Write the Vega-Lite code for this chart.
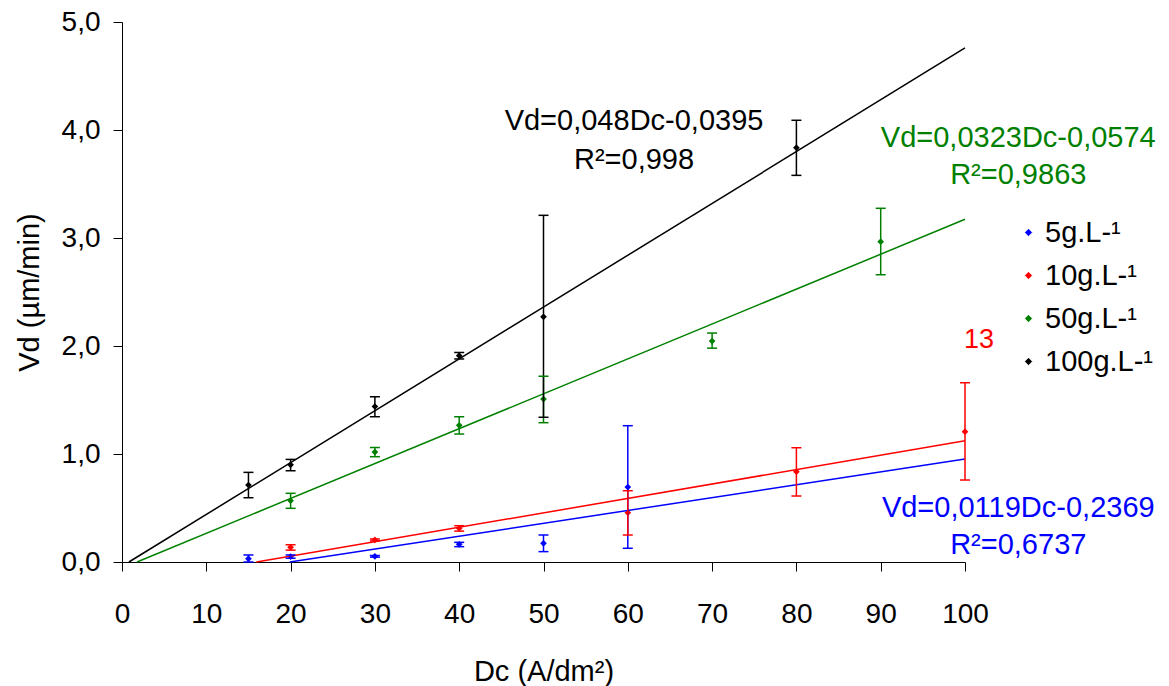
{
  "$schema": "https://vega.github.io/schema/vega-lite/v6.json",
  "width": 843,
  "height": 540,
  "autosize": {"type": "none"},
  "padding": {"left": 122, "top": 22, "right": 204, "bottom": 124},
  "background": "white",
  "config": {
    "view": {"stroke": null},
    "font": "Liberation Sans",
    "axis": {
      "grid": false,
      "domainColor": "black",
      "tickColor": "black",
      "labelColor": "black",
      "titleColor": "black",
      "labelFont": "Liberation Sans",
      "titleFont": "Liberation Sans",
      "labelFontSize": 28,
      "titleFontSize": 29,
      "titleFontWeight": "normal",
      "tickSize": 9,
      "domainWidth": 1,
      "tickWidth": 1,
      "labelFlush": false,
      "labelOverlap": false
    }
  },
  "datasets": {
    "points": [
      {"c": "5g.L-¹", "x": 15, "y": 0.031, "lo": 0.0, "hi": 0.065},
      {"c": "5g.L-¹", "x": 20, "y": 0.05, "lo": 0.035, "hi": 0.065},
      {"c": "5g.L-¹", "x": 30, "y": 0.053, "lo": 0.045, "hi": 0.06},
      {"c": "5g.L-¹", "x": 40, "y": 0.164, "lo": 0.142, "hi": 0.182},
      {"c": "5g.L-¹", "x": 50, "y": 0.173, "lo": 0.096, "hi": 0.25},
      {"c": "5g.L-¹", "x": 60, "y": 0.694, "lo": 0.127, "hi": 1.262},
      {"c": "10g.L-¹", "x": 20, "y": 0.136, "lo": 0.11, "hi": 0.16},
      {"c": "10g.L-¹", "x": 30, "y": 0.204, "lo": 0.195, "hi": 0.213},
      {"c": "10g.L-¹", "x": 40, "y": 0.312, "lo": 0.286, "hi": 0.336},
      {"c": "10g.L-¹", "x": 60, "y": 0.457, "lo": 0.25, "hi": 0.66},
      {"c": "10g.L-¹", "x": 80, "y": 0.836, "lo": 0.611, "hi": 1.058},
      {"c": "10g.L-¹", "x": 100, "y": 1.207, "lo": 0.759, "hi": 1.66},
      {"c": "50g.L-¹", "x": 20, "y": 0.568, "lo": 0.497, "hi": 0.636},
      {"c": "50g.L-¹", "x": 30, "y": 1.018, "lo": 0.975, "hi": 1.06},
      {"c": "50g.L-¹", "x": 40, "y": 1.266, "lo": 1.185, "hi": 1.345},
      {"c": "50g.L-¹", "x": 50, "y": 1.509, "lo": 1.29, "hi": 1.72},
      {"c": "50g.L-¹", "x": 70, "y": 2.046, "lo": 1.98, "hi": 2.12},
      {"c": "50g.L-¹", "x": 90, "y": 2.966, "lo": 2.66, "hi": 3.275},
      {"c": "100g.L-¹", "x": 15, "y": 0.713, "lo": 0.595, "hi": 0.83},
      {"c": "100g.L-¹", "x": 20, "y": 0.9, "lo": 0.845, "hi": 0.95},
      {"c": "100g.L-¹", "x": 30, "y": 1.44, "lo": 1.345, "hi": 1.53},
      {"c": "100g.L-¹", "x": 40, "y": 1.91, "lo": 1.88, "hi": 1.94},
      {"c": "100g.L-¹", "x": 50, "y": 2.27, "lo": 1.34, "hi": 3.21},
      {"c": "100g.L-¹", "x": 80, "y": 3.836, "lo": 3.58, "hi": 4.09}
    ],
    "fits": [
      {"c": "100g.L-¹", "x": 0.82, "y": 0},
      {"c": "100g.L-¹", "x": 100, "y": 4.76},
      {"c": "50g.L-¹", "x": 1.78, "y": 0},
      {"c": "50g.L-¹", "x": 100, "y": 3.173},
      {"c": "10g.L-¹", "x": 15.95, "y": 0},
      {"c": "10g.L-¹", "x": 100, "y": 1.123},
      {"c": "5g.L-¹", "x": 19.9, "y": 0},
      {"c": "5g.L-¹", "x": 100, "y": 0.953}
    ],
    "one": [{}]
  },
  "layer": [
    {
      "data": {"name": "points"},
      "mark": {"type": "point", "shape": "diamond", "filled": true, "size": 45, "opacity": 1},
      "encoding": {
        "x": {
          "field": "x", "type": "quantitative",
          "scale": {"domain": [0, 100], "nice": false, "zero": false},
          "axis": {
            "values": [0, 10, 20, 30, 40, 50, 60, 70, 80, 90, 100],
            "labelPadding": 29,
            "labelBaseline": "top",
            "title": "Dc (A/dm²)",
            "titleBaseline": "alphabetic",
            "titleY": 118,
            "titleX": 421.5,
            "titleAlign": "center"
          }
        },
        "y": {
          "field": "y", "type": "quantitative",
          "scale": {"domain": [0, 5], "nice": false},
          "axis": {
            "values": [0, 1, 2, 3, 4, 5],
            "labelExpr": "replace(format(datum.value, '.1f'), '.', ',')",
            "labelPadding": 13,
            "title": "Vd (µm/min)",
            "titleBaseline": "alphabetic",
            "titleAngle": -90,
            "titleX": -84,
            "titleY": 270,
            "titleAlign": "center"
          }
        },
        "color": {
          "field": "c", "type": "nominal",
          "scale": {
            "domain": ["5g.L-¹", "10g.L-¹", "50g.L-¹", "100g.L-¹"],
            "range": ["#0000ff", "#ff0000", "#008000", "#000000"]
          },
          "legend": {
            "title": null,
            "orient": "none",
            "legendX": 892,
            "legendY": 196,
            "padding": 0,
            "symbolType": "diamond",
            "symbolSize": 40,
            "symbolStrokeWidth": 1,
            "labelFont": "Liberation Sans",
            "labelFontSize": 29,
            "labelColor": "black",
            "labelOffset": 2,
            "rowPadding": 13
          }
        }
      }
    },
    {
      "data": {"name": "fits"},
      "mark": {"type": "line", "strokeWidth": 1.5},
      "encoding": {
        "x": {"field": "x", "type": "quantitative"},
        "y": {"field": "y", "type": "quantitative"},
        "color": {"field": "c", "type": "nominal"},
        "detail": {"field": "c"}
      }
    },
    {
      "data": {"name": "points"},
      "mark": {"type": "rule", "strokeWidth": 1.5},
      "encoding": {
        "x": {"field": "x", "type": "quantitative"},
        "y": {"field": "lo", "type": "quantitative"},
        "y2": {"field": "hi"},
        "color": {"field": "c", "type": "nominal"}
      }
    },
    {
      "data": {"name": "points"},
      "mark": {"type": "tick", "orient": "horizontal", "size": 10, "thickness": 1.5, "opacity": 1},
      "encoding": {
        "x": {"field": "x", "type": "quantitative"},
        "y": {"field": "lo", "type": "quantitative"},
        "color": {"field": "c", "type": "nominal"}
      }
    },
    {
      "data": {"name": "points"},
      "mark": {"type": "tick", "orient": "horizontal", "size": 10, "thickness": 1.5, "opacity": 1},
      "encoding": {
        "x": {"field": "x", "type": "quantitative"},
        "y": {"field": "hi", "type": "quantitative"},
        "color": {"field": "c", "type": "nominal"}
      }
    },
    {
      "data": {"name": "one"},
      "mark": {"type": "text", "font": "Liberation Sans", "fontSize": 29, "align": "center", "baseline": "alphabetic", "color": "black"},
      "encoding": {"x": {"datum": 60.74}, "y": {"datum": 4.0}, "text": {"value": "Vd=0,048Dc-0,0395"}}
    },
    {
      "data": {"name": "one"},
      "mark": {"type": "text", "font": "Liberation Sans", "fontSize": 29, "align": "center", "baseline": "alphabetic", "color": "black"},
      "encoding": {"x": {"datum": 60.74}, "y": {"datum": 3.639}, "text": {"value": "R²=0,998"}}
    },
    {
      "data": {"name": "one"},
      "mark": {"type": "text", "font": "Liberation Sans", "fontSize": 29, "align": "center", "baseline": "alphabetic", "color": "#008000"},
      "encoding": {"x": {"datum": 106.32}, "y": {"datum": 3.845}, "text": {"value": "Vd=0,0323Dc-0,0574"}}
    },
    {
      "data": {"name": "one"},
      "mark": {"type": "text", "font": "Liberation Sans", "fontSize": 29, "align": "center", "baseline": "alphabetic", "color": "#008000"},
      "encoding": {"x": {"datum": 106.32}, "y": {"datum": 3.5}, "text": {"value": "R²=0,9863"}}
    },
    {
      "data": {"name": "one"},
      "mark": {"type": "text", "font": "Liberation Sans", "fontSize": 29, "align": "center", "baseline": "alphabetic", "color": "#0000ff"},
      "encoding": {"x": {"datum": 106.32}, "y": {"datum": 0.4194}, "text": {"value": "Vd=0,0119Dc-0,2369"}}
    },
    {
      "data": {"name": "one"},
      "mark": {"type": "text", "font": "Liberation Sans", "fontSize": 29, "align": "center", "baseline": "alphabetic", "color": "#0000ff"},
      "encoding": {"x": {"datum": 106.32}, "y": {"datum": 0.074}, "text": {"value": "R²=0,6737"}}
    },
    {
      "data": {"name": "one"},
      "mark": {"type": "text", "font": "Liberation Sans", "fontSize": 27, "align": "center", "baseline": "alphabetic", "color": "#ff0000"},
      "encoding": {"x": {"datum": 101.66}, "y": {"datum": 1.979}, "text": {"value": "13"}}
    }
  ]
}
